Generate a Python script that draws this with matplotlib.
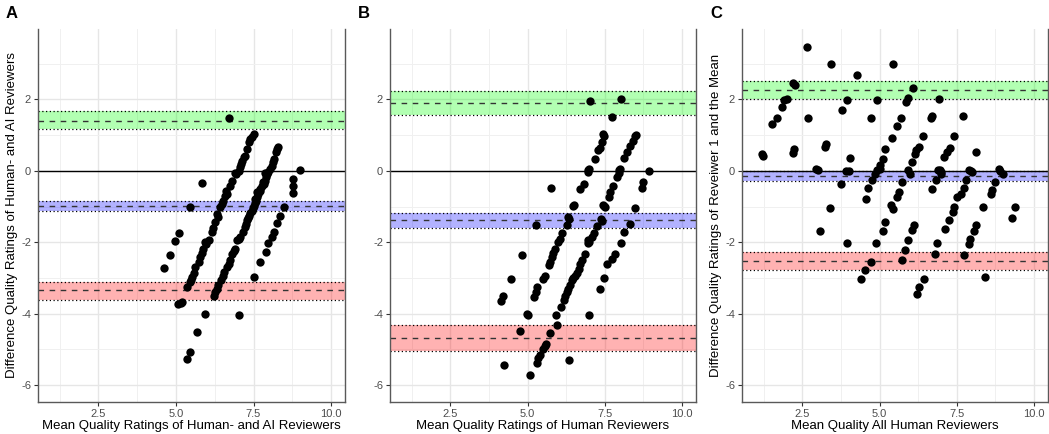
import numpy as np
import matplotlib
matplotlib.use('Agg')
import matplotlib.pyplot as plt
from matplotlib.ticker import FixedLocator

plt.rcParams['font.family'] = ['Liberation Sans', 'DejaVu Sans']

# ---- Panel A: human vs AI reviewers (mean, difference) ----
a_mean = [6.72,
          7.53, 7.45, 7.34, 7.29, 7.24, 7.13, 7.07, 7.02, 6.94, 6.80, 6.75, 6.66, 6.59, 6.48, 6.43,
          6.32, 6.26, 6.16, 6.05, 5.92, 5.87, 5.78, 5.73, 5.62, 5.51, 5.44, 5.37, 5.19, 5.08, 5.94,
          5.67, 5.44, 5.35, 7.38, 7.20, 7.10, 6.90, 6.62, 6.52, 6.36, 6.20, 5.97, 5.83, 5.58, 5.48, 5.15,
          8.30, 8.23, 8.17, 8.09, 7.98, 7.91, 7.83, 7.72, 7.66, 7.59, 7.52, 7.45, 7.37, 7.29, 7.21,
          7.16, 7.07, 6.98, 6.91, 6.80, 6.75, 6.66, 6.55, 6.46, 6.37, 6.26, 6.21, 7.02,
          8.26, 8.12, 8.03, 7.95, 7.88, 7.78, 7.62, 7.56, 7.48, 7.40, 7.33, 7.25, 7.62, 7.70, 7.55,
          7.02, 6.86, 6.70, 6.51, 6.31, 7.80, 7.88,
          8.99, 8.78, 8.76, 8.78, 8.49, 8.36, 8.25, 8.17, 8.09, 7.98, 7.91, 7.72, 7.52,
          5.84, 5.46, 5.11, 4.97, 4.81, 4.60]
a_diff = [1.49,
          1.04, 0.94, 0.80, 0.62, 0.43, 0.29, 0.10, 0.01, -0.09, -0.27, -0.41, -0.64, -0.69, -0.92, -1.02,
          -1.20, -1.44, -1.72, -1.95, -2.00, -2.18, -2.42, -2.56, -2.70, -2.98, -3.12, -3.26, -3.68, -3.73, -4.01,
          -4.50, -5.08, -5.27, 0.88, 0.40, 0.20, -0.05, -0.55, -0.85, -1.30, -1.60, -2.05, -2.30, -2.85, -3.05, -3.70,
          0.67, 0.52, 0.34, 0.15, -0.04, -0.18, -0.36, -0.50, -0.64, -0.83, -0.97, -1.11, -1.25, -1.39, -1.58,
          -1.72, -1.86, -1.95, -2.18, -2.32, -2.51, -2.70, -2.84, -3.07, -3.21, -3.40, -3.51, -4.03,
          0.60, 0.25, 0.05, -0.10, -0.28, -0.42, -0.72, -0.90, -1.05, -1.18, -1.32, -1.50, -0.60, -0.55, -0.80,
          -1.90, -2.25, -2.60, -2.95, -3.30, -0.30, -0.05,
          0.02, -0.22, -0.43, -0.62, -1.01, -1.27, -1.46, -1.70, -1.84, -2.02, -2.26, -2.54, -2.98,
          -0.35, -1.02, -1.74, -1.97, -2.37, -2.72]

# ---- Panel B: human reviewers ----
b_mean = [7.02, 8.01, 7.72,
          7.47, 7.29, 7.18, 6.97, 6.84, 6.70, 6.46, 6.32, 6.27, 6.00, 5.89, 5.78, 5.68, 5.49, 5.30,
          5.21, 4.98, 4.76, 4.25, 7.40, 7.33, 7.00, 6.95, 6.50, 6.35, 6.10, 6.05, 5.83, 5.72, 5.55,
          5.26, 5.00, 7.45,
          5.77, 5.27, 4.82, 4.48, 4.20, 4.15,
          8.48, 8.32, 8.21, 8.13, 7.97, 7.89, 7.78, 7.67, 7.62, 7.48, 7.37, 7.26, 7.14, 6.97, 6.86,
          6.70, 6.59, 6.48, 6.38, 6.27, 6.18, 6.07, 5.92, 5.94, 5.73, 5.57, 5.41, 5.30, 5.09, 6.35, 7.00,
          8.52, 8.40, 8.00, 7.95, 7.50, 7.45, 7.00, 6.95, 6.55, 6.45, 6.30, 6.22, 5.60, 5.50, 5.35,
          7.40, 7.08, 6.75, 6.65,
          8.94, 8.72, 8.69, 8.48, 8.30, 8.13, 8.02, 7.84, 7.73, 7.57, 7.46, 7.33]
b_diff = [1.95, 2.02, 1.51,
          0.98, 0.58, 0.34, 0.02, -0.36, -0.50, -0.97, -1.29, -1.53, -2.00, -2.18, -2.42, -2.65, -3.02, -3.25,
          -3.53, -4.00, -4.49, -5.43, 0.80, 0.65, 0.05, -0.02, -0.95, -1.35, -1.75, -1.90, -2.30, -2.55, -2.95,
          -3.40, -4.05, 1.02,
          -0.48, -1.53, -2.36, -3.02, -3.50, -3.64,
          0.99, 0.71, 0.53, 0.36, 0.02, -0.17, -0.41, -0.60, -0.74, -0.99, -1.36, -1.55, -1.74, -2.02, -2.34,
          -2.62, -2.86, -3.00, -3.19, -3.38, -3.62, -3.80, -4.04, -4.32, -4.55, -4.92, -5.16, -5.39, -5.72, -5.30, -4.03,
          1.00, 0.85, 0.05, -0.05, -1.00, -0.95, -2.00, -1.95, -2.95, -3.05, -3.30, -3.50, -4.85, -5.00, -5.25,
          -1.40, -1.85, -2.50, -2.75,
          0.00, -0.31, -0.48, -1.04, -1.48, -1.72, -2.02, -2.33, -2.47, -2.61, -3.01, -3.31]

# ---- Panel C: reviewer 1 vs mean of all human reviewers ----
c_mean = [2.65, 3.44, 4.28, 2.20, 2.26, 1.92, 1.99, 1.83, 1.67, 1.52, 1.19, 1.24, 2.24, 2.20, 2.70,
          3.26, 3.24, 2.94, 3.00, 3.95, 3.77, 4.04, 3.92, 4.00, 3.74, 3.40, 3.07, 3.95, 4.92, 4.71,
          4.90, 4.71, 4.53, 4.39, 5.19, 5.10, 5.03, 4.92, 4.85, 4.76, 4.63, 4.55, 5.19, 5.10,
          5.43, 6.08, 5.91, 5.84, 5.68, 5.57, 5.41, 6.19, 6.16, 6.05, 5.91, 6.00, 5.73, 5.62, 5.57,
          5.38, 5.44, 6.11, 6.05, 5.91, 5.81, 5.73, 6.43, 6.27, 6.21, 6.91, 6.70, 6.65, 6.41, 6.27,
          7.29, 7.18, 7.07, 6.88, 6.99, 6.84, 6.70, 7.69, 7.42, 7.24, 7.11, 6.86, 6.81,
          8.13, 7.91, 7.81, 7.72, 7.63, 7.50, 7.42, 7.37, 8.36, 8.13, 8.06, 7.94, 7.88, 7.72, 8.40,
          8.85, 9.01, 8.74, 8.63, 8.60, 9.39, 9.28,
          6.95, 7.00, 7.95, 8.00, 5.00, 8.90]
c_diff = [3.48, 3.00, 2.70, 2.46, 2.42, 1.98, 2.00, 1.79, 1.49, 1.31, 0.47, 0.42, 0.62, 0.51, 1.49,
          0.76, 0.67, 0.04, 0.02, 1.98, 1.70, 0.36, 0.00, 0.00, -0.36, -1.04, -1.68, -2.01, 1.98, 1.49,
          -2.01, -2.55, -2.78, -3.04, 0.62, 0.34, 0.16, 0.02, -0.10, -0.26, -0.48, -0.78, -1.43, -1.68,
          2.99, 2.32, 2.03, 1.93, 1.47, 1.26, 0.93, 0.58, 0.48, 0.25, 0.02, -0.08, -0.31, -0.59, -0.73,
          -0.96, -1.08, -1.52, -1.66, -1.94, -2.22, -2.50, -3.02, -3.25, -3.46, 2.01, 1.54, 1.47, 0.98, 0.67,
          0.64, 0.53, 0.39, 0.02, -0.08, -0.26, -0.50, 1.53, 0.99, -1.38, -1.62, -2.01, -2.34,
          0.53, 0.02, -0.26, -0.48, -0.64, -0.73, -1.01, -1.15, -1.01, -1.52, -1.68, -1.90, -2.04, -2.36, -2.97,
          0.04, -0.08, -0.31, -0.54, -0.64, -1.01, -1.32,
          0.03, -0.02, 0.00, -0.02, 0.05, 0.00]

# limits of agreement: (lower CI, estimate, upper CI) for upper LoA, bias, lower LoA
a_upper = [1.16, 1.41, 1.68]
a_bias = [-1.13, -0.97, -0.83]
a_lower = [-3.63, -3.35, -3.10]
b_upper = [1.56, 1.91, 2.23]
b_bias = [-1.60, -1.38, -1.18]
b_lower = [-5.04, -4.68, -4.32]
c_upper = [2.00, 2.26, 2.51]
c_bias = [-0.28, -0.13, 0.00]
c_lower = [-2.77, -2.53, -2.26]

panels = [
    ('A', a_mean, a_diff, a_upper, a_bias, a_lower,
     'Mean Quality Ratings of Human- and AI Reviewers',
     'Difference Quality Ratings of Human- and AI Reviewers', 38, 345),
    ('B', b_mean, b_diff, b_upper, b_bias, b_lower,
     'Mean Quality Ratings of Human Reviewers', None, 390, 696),
    ('C', c_mean, c_diff, c_upper, c_bias, c_lower,
     'Mean Quality All Human Reviewers',
     'Difference Quality Ratings of Reveiwer 1 and the Mean', 742, 1048),
]

W, H = 1049, 434
fig = plt.figure(figsize=(W / 100, H / 100), dpi=100)
top_px, bot_px = 29, 402

for tag, xs, ys, up, bias, lo, xlab, ylab, l_px, r_px in panels:
    ax = fig.add_axes([l_px / W, 1 - bot_px / H, (r_px - l_px) / W, (bot_px - top_px) / H])

    # bands for the three limits, with dotted CI edges and dashed estimate
    for band, col in [(up, '#00ff00'), (bias, '#0000ff'), (lo, '#ff0000')]:
        ax.axhspan(band[0], band[2], color=col, alpha=0.3, lw=0, zorder=1)
        ax.axhline(band[0], color='black', ls=(0, (1, 2)), lw=0.9, zorder=2)
        ax.axhline(band[2], color='black', ls=(0, (1, 2)), lw=0.9, zorder=2)
        ax.axhline(band[1], color='#333333', ls=(0, (4, 4)), lw=1.0, zorder=2)
    ax.axhline(0, color='black', lw=1.0, zorder=2)

    ax.scatter(xs, ys, s=36, color='black', lw=0, zorder=3)

    ax.set_xlim(0.55, 10.45)
    ax.set_ylim(-6.475, 3.975)
    ax.set_xticks([2.5, 5.0, 7.5, 10.0])
    ax.set_xticklabels(['2.5', '5.0', '7.5', '10.0'])
    ax.set_yticks([-6, -4, -2, 0, 2])
    ax.set_yticklabels(['-6', '-4', '-2', '0', '2'])
    ax.xaxis.set_minor_locator(FixedLocator([1.25, 3.75, 6.25, 8.75]))
    ax.yaxis.set_minor_locator(FixedLocator([-5, -3, -1, 1, 3]))
    ax.grid(True, which='major', color='#e6e6e6', lw=1.0, zorder=0)
    ax.grid(True, which='minor', color='#f0f0f0', lw=0.7, zorder=0)
    ax.set_axisbelow(True)
    ax.tick_params(which='major', length=3, width=0.8, color='#333333',
                   labelsize=8, labelcolor='#4d4d4d', pad=2)
    ax.tick_params(which='minor', length=0)
    ax.spines['top'].set_visible(False)
    for s in ['left', 'right', 'bottom']:
        ax.spines[s].set_color('#595959')
        ax.spines[s].set_linewidth(1.0)

    cx = (l_px + r_px) / 2 / W
    fig.text(cx, 1 - 426 / H, xlab, ha='center', va='center', fontsize=9.5)
    if ylab:
        fig.text((l_px - 26) / W, 1 - (top_px + bot_px) / 2 / H, ylab, rotation=90,
                 ha='center', va='center', fontsize=9.5)
    fig.text((l_px - 26) / W, 1 - 14 / H, tag, ha='center', va='center',
             fontsize=12, fontweight='bold')

fig.savefig('out.png', dpi=100)
